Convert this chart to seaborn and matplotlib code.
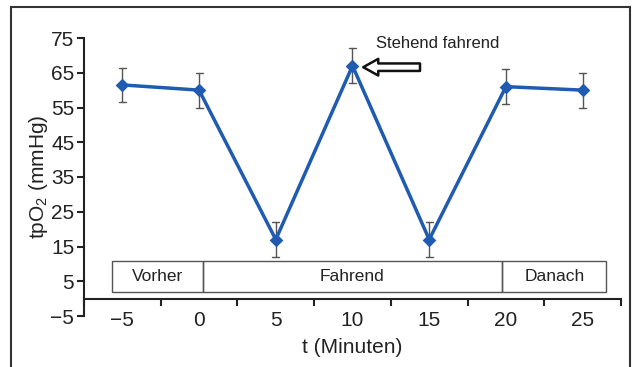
import numpy as np
import pandas as pd
import seaborn as sns
import matplotlib.pyplot as plt
from matplotlib.patches import Rectangle

# data
t_labels = ["\u22125", "0", "5", "10", "15", "20", "25"]
tpo2_mean = [61.5, 60, 17, 67, 17, 61, 60]
tpo2_err = [5, 5, 5, 5, 5, 5, 5]

phase_names = ["Vorher", "Fahrend", "Danach"]
phase_start = [-0.13, 1.05, 4.95]
phase_end = [1.05, 4.95, 6.31]

# long table: mean +/- error per time point, error bar spans min..max
rows = []
for i, (m, e) in enumerate(zip(tpo2_mean, tpo2_err)):
    for v in (m - e, m, m + e):
        rows.append({"t": t_labels[i], "tpO2": v})
df = pd.DataFrame(rows)

sns.set_theme(style="ticks")
plt.rcParams["font.family"] = ["Liberation Sans", "DejaVu Sans"]
plt.rcParams["mathtext.fontset"] = "custom"
plt.rcParams["mathtext.rm"] = "Liberation Sans"
plt.rcParams["mathtext.it"] = "Liberation Sans:italic"

fig = plt.figure(figsize=(6.32, 3.67), dpi=100)
ax = fig.add_axes([84 / 632, 51 / 367, (621 - 84) / 632, (316 - 38) / 367])

sns.pointplot(
    data=df, x="t", y="tpO2", order=t_labels, ax=ax,
    estimator="mean", errorbar=lambda x: (x.min(), x.max()),
    color="#1f5bb0", markers="D", markersize=5.5, linewidth=2.5,
    capsize=0.09, err_kws={"color": "#555555", "linewidth": 1.0},
)
for line in ax.lines:
    if line.get_color() == "#555555":
        line.set_zorder(1)

ax.set_xlim(-0.5, 6.5)
ax.set_ylim(-5, 75)
ax.set_yticks(np.arange(-5, 76, 10))
ax.set_yticklabels(["\u22125"] + [str(v) for v in range(5, 76, 10)])
ax.set_xticks(range(7))
ax.set_xticklabels(t_labels)
ax.set_xticks(np.arange(-0.5, 7, 1), minor=True)
ax.tick_params(axis="x", which="major", length=0, labelsize=15, pad=9, colors="#222222")
ax.tick_params(axis="x", which="minor", length=5, width=1.5, color="#222222")
ax.tick_params(axis="y", length=5, width=1.5, labelsize=15, pad=2, colors="#222222")

ax.spines["top"].set_visible(False)
ax.spines["right"].set_visible(False)
ax.spines["bottom"].set_position(("data", 0))
for s in ("left", "bottom"):
    ax.spines[s].set_linewidth(1.5)
    ax.spines[s].set_color("#222222")

ax.set_xlabel("t (Minuten)", fontsize=15, color="#222222", labelpad=6)
ax.set_ylabel("tpO$_2$ (mmHg)", fontsize=15, color="#222222", labelpad=0)

# phase boxes
for name, x0, x1 in zip(phase_names, phase_start, phase_end):
    ax.add_patch(Rectangle((x0, 2.0), x1 - x0, 8.7, fill=False,
                           edgecolor="#555555", linewidth=1.0, zorder=2))
    ax.text((x0 + x1) / 2, 6.3, name, ha="center", va="center",
            fontsize=12.5, color="#222222")

# annotation
ax.text(3.31, 73.3, "Stehend fahrend", ha="left", va="center",
        fontsize=12, color="#222222")
ax.annotate("", xy=(3.14, 66.6), xytext=(3.88, 66.6),
            arrowprops=dict(arrowstyle="simple,head_length=0.9,head_width=1.0,tail_width=0.45",
                            fc="white", ec="#111111", lw=1.8, shrinkA=0, shrinkB=0))

# outer frame
fig.patches.append(Rectangle((11 / 632, -0.02), (630 - 11) / 632, 1 - 7 / 367 + 0.02,
                             transform=fig.transFigure, fill=False,
                             edgecolor="#333333", linewidth=1.5))

fig.savefig("out.png", dpi=100)
